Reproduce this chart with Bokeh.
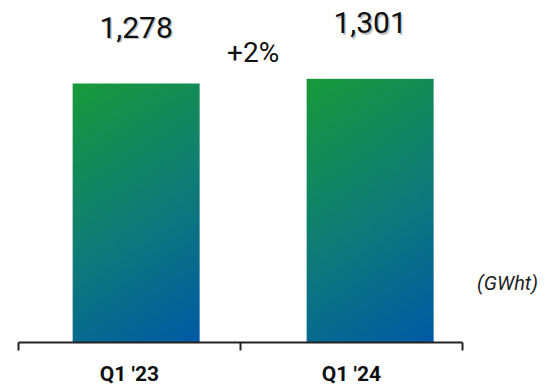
import numpy as np
from bokeh.plotting import figure
from bokeh.models import FixedTicker, Label
from bokeh.core.properties import value
from bokeh.embed import file_html
from bokeh.resources import INLINE

# ---- data ----
categories = ["Q1 '23", "Q1 '24"]
values = [1278, 1301]
value_labels = ["1,278", "1,301"]
change_label = "+2%"
unit_label = "(GWht)"

# ---- layout / style ----
idx = np.arange(len(categories))
bar_x = 0.03 + idx * 1.054          # bar centres (slightly offset from category centres)
bar_w = 0.572

green = np.array([24, 154, 58], float)
teal = np.array([16, 125, 118], float)
blue = np.array([0, 90, 166], float)

def gradient(h, w):
    ys, xs = np.mgrid[0:h, 0:w]        # ys from top
    t = (0.55 * xs + 0.84 * ys) / (0.55 * (w - 1) + 0.84 * (h - 1))
    t = t[..., None]
    c = np.where(t < 0.5, green + (teal - green) * (t / 0.5),
                 teal + (blue - teal) * ((t - 0.5) / 0.5))
    img = np.empty((h, w), dtype=np.uint32)
    v = img.view(dtype=np.uint8).reshape((h, w, 4))
    v[..., 0] = c[..., 0]
    v[..., 1] = c[..., 1]
    v[..., 2] = c[..., 2]
    v[..., 3] = 255
    return img[::-1]                   # row 0 = bottom

p = figure(width=551, height=391, x_range=(-0.581, 1.901), y_range=(0, 1687.5),
           output_backend="svg", toolbar_location=None, y_axis_location=None,
           min_border_left=0, min_border_right=0, min_border_top=0, min_border_bottom=49)
p.outline_line_color = None
p.xgrid.visible = False
p.ygrid.visible = False
p.background_fill_color = "white"

px_per_unit = 342 / 1687.5
for xc, v in zip(bar_x, values):
    hpx = int(round(v * px_per_unit))
    img = gradient(hpx, 127)
    p.image_rgba(image=[img], x=xc - bar_w / 2, y=0, dw=bar_w, dh=v)

# value labels with subtle shadow
p.text(x=bar_x, y=values, text=value_labels, text_align="center", text_baseline="middle",
       x_offset=1.5, y_offset=-54.5, text_font=value("Roboto"), text_font_size="30px",
       text_color="#9a9a9a", text_alpha=0.6)
p.text(x=bar_x, y=values, text=value_labels, text_align="center", text_baseline="middle",
       y_offset=-56, text_font=value("Roboto"), text_font_size="30px", text_color="#111111")

p.text(x=[bar_x.mean()], y=[max(values)], text=[change_label], text_align="center",
       text_baseline="middle", y_offset=-26, text_font=value("Roboto"),
       text_font_size="28px", text_color="#111111")

p.add_layout(Label(x=1.703, y=296, text=unit_label, text_align="center", text_baseline="middle",
                   text_font="Roboto", text_font_style="italic", text_font_size="20px",
                   text_color="#222222"))

ax = p.xaxis[0]
ax.ticker = FixedTicker(ticks=list(idx), minor_ticks=[-0.5, 0.5, 1.5])
ax.bounds = (-0.5, 1.5)
ax.major_label_overrides = {int(i): c for i, c in zip(idx, categories)}
ax.major_tick_in = 0
ax.major_tick_out = 0
ax.minor_tick_in = 0
ax.minor_tick_out = 8
ax.minor_tick_line_color = "#222222"
ax.minor_tick_line_width = 2
ax.axis_line_color = "#222222"
ax.axis_line_width = 2
ax.major_label_standoff = 11
ax.major_label_text_font = "Roboto"
ax.major_label_text_font_style = "bold"
ax.major_label_text_font_size = "21px"
ax.major_label_text_color = "#111111"

open("out.html", "w").write(file_html(p, INLINE))
